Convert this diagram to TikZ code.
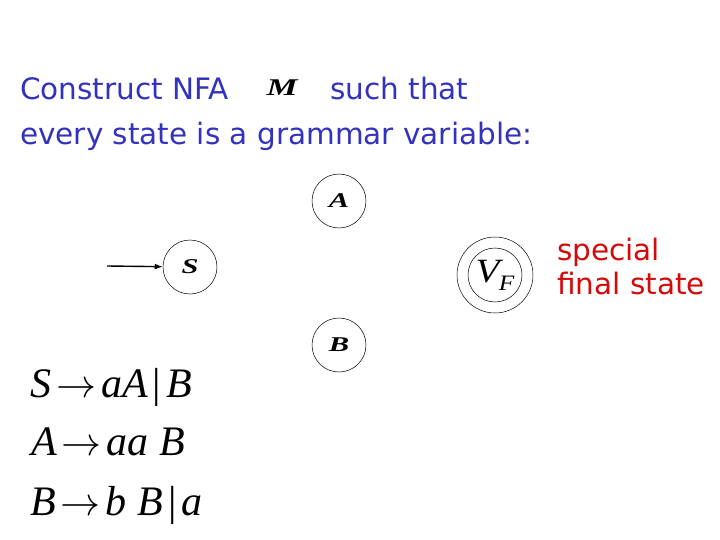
\documentclass[tikz,border=0pt]{standalone}
\usepackage{xcolor}
\usepackage{amsmath}
\usepackage{graphicx}
\usepackage{fontspec}
\usepackage{tikz}
\usetikzlibrary{arrows.meta}
\setmainfont{Liberation Serif}
\newfontfamily\comicfont{DejaVu Sans}
\definecolor{titleblue}{RGB}{50,50,190}
\definecolor{notered}{RGB}{210,10,10}
\newcommand{\widen}[1]{\scalebox{1.45}[1]{#1}}
\newcommand{\yields}{\kern5pt\resizebox{40pt}{!}{$\rightarrow$}\kern5pt}
\newcommand{\orbar}{\kern5pt{\upshape |}\kern5pt}
\tikzset{
	state/.style={circle,draw,line width=0.5pt,minimum size=54pt,inner sep=0pt,font=\fontsize{21}{21}\selectfont\bfseries\itshape},
	titletext/.style={anchor=base west,inner sep=0pt,text=titleblue,font=\comicfont\fontsize{29.5}{29.5}\selectfont},
	notetext/.style={anchor=base west,inner sep=0pt,text=notered,font=\comicfont\fontsize{29.5}{29.5}\selectfont},
	rule/.style={anchor=base west,inner sep=0pt,font=\fontsize{42}{42}\selectfont\itshape}
}

\begin{document}
\begin{tikzpicture}[x=1pt,y=-1pt]
	\useasboundingbox (0,0) rectangle (720,540);

	% title
	\node[titletext] (t1) at (20,100) {Construct NFA};
	\node[inner sep=0pt,font=\fontsize{24}{24}\selectfont\bfseries\itshape] (m) at (282,88) {\widen{M}};
	\node[titletext] (t2) at (330,100) {such that};
	\node[titletext] (t3) at (20,145) {every state is a grammar variable:};

	% states
	\node[state] (s) at (190,267) {\widen{S}};
	\node[state] (a) at (339,201) {\widen{A}};
	\node[state] (b) at (339,345) {\widen{B}};
	\node[state,font=\fontsize{34}{34}\selectfont\itshape] (vf) at (495,275) {\scalebox{1.15}[1]{V\kern-0.5pt\raisebox{-8pt}{\fontsize{22}{22}\selectfont F}}};
	\node[circle,draw,line width=0.5pt,minimum size=76pt,inner sep=0pt] (vfout) at (495,275) {};
	\coordinate (start) at (107,266);
	\draw[line width=1.4pt,-{Latex[length=8pt,width=6pt]}] (start) -- (s);

	% note
	\node[notetext] (n1) at (557,260) {special};
	\node[notetext] (n2) at (557,294) {final state};

	% grammar
	\node[rule] (r1) at (30,397) {S\yields aA\orbar B};
	\node[rule] (r2) at (31,455) {A\yields aa B};
	\node[rule] (r3) at (30,515) {B\yields b B\orbar a};
\end{tikzpicture}
\end{document}
